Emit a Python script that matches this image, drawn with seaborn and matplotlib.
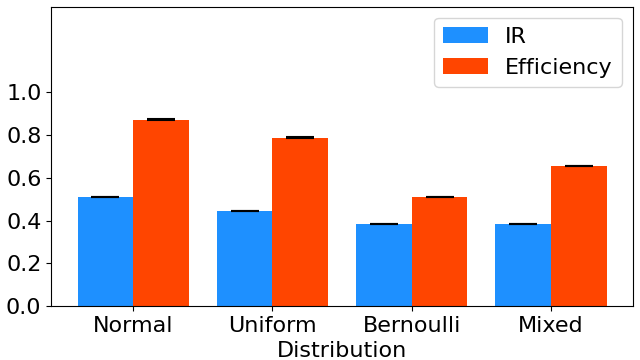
import numpy as np
import pandas as pd
import matplotlib
matplotlib.use('Agg')
import matplotlib.pyplot as plt
import seaborn as sns

distributions = ['Normal', 'Uniform', 'Bernoulli', 'Mixed']
ir_values = [0.510, 0.445, 0.383, 0.383]
eff_values = [0.872, 0.788, 0.511, 0.655]
ir_err = [0.001, 0.001, 0.001, 0.001]
eff_err = [0.001, 0.001, 0.001, 0.001]
series = ['IR', 'Efficiency']
colors = ['#1E90FF', '#FF4500']

df = pd.DataFrame({
    'Distribution': distributions * 2,
    'Metric': [series[0]] * 4 + [series[1]] * 4,
    'Value': ir_values + eff_values,
})

plt.rcParams['font.family'] = ['DejaVu Sans']
fig = plt.figure(figsize=(6.4, 3.6), dpi=100)
ax = fig.add_axes([0.08, 0.15, 0.909, 0.831])

sns.barplot(data=df, x='Distribution', y='Value', hue='Metric',
            palette=colors, errorbar=None, saturation=1, width=0.8, ax=ax)

# error bars on the bar centres
errs = ir_err + eff_err
vals = ir_values + eff_values
bars = [p for p in ax.patches if p.get_height() > 0][:8]
for p, v, e in zip(bars, vals, errs):
    ax.errorbar(p.get_x() + p.get_width() / 2, v, yerr=e, fmt='none',
                ecolor='black', elinewidth=1.5, capsize=10, capthick=1.5)

ax.set_xlim(-0.59, 3.59)
ax.set_ylim(0, 1.4)
ax.set_yticks([0.0, 0.2, 0.4, 0.6, 0.8, 1.0])
ax.tick_params(labelsize=16)
ax.set_xlabel('Distribution', fontsize=16)
ax.set_ylabel('')
ax.legend(loc='upper right', fontsize=16)

fig.savefig('out.png', dpi=100)
